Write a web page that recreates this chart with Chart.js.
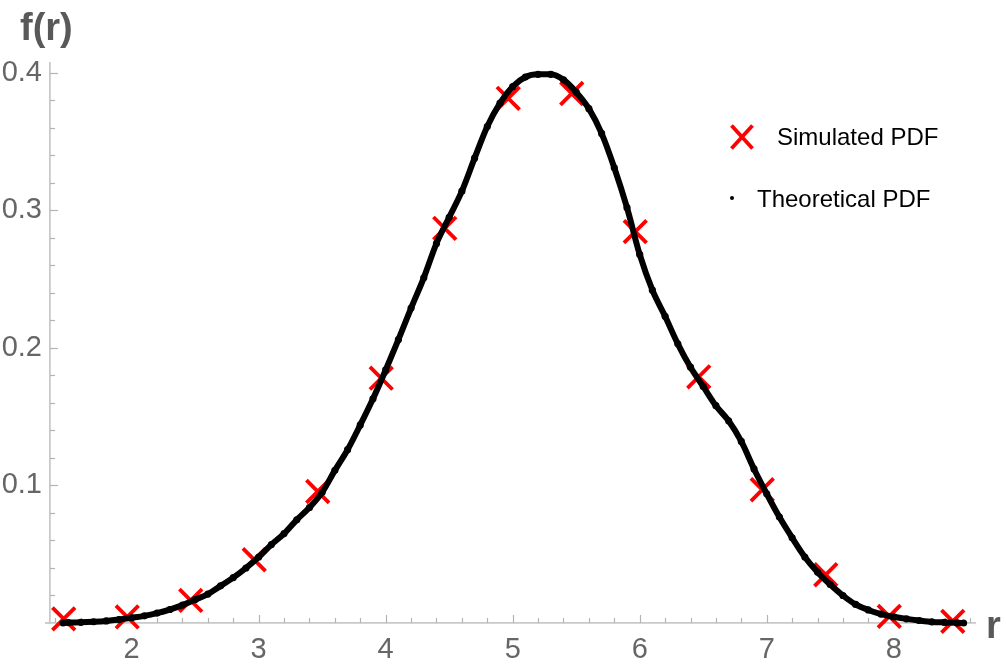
<!DOCTYPE html>
<html>
<head>
<meta charset="utf-8">
<script src="https://cdn.jsdelivr.net/npm/chart.js@4/dist/chart.umd.min.js"></script>
<style>
  html, body { margin: 0; padding: 0; background: #ffffff; }
  #wrap { position: relative; width: 1007px; height: 667px; }
</style>
</head>
<body>
<div id="wrap"><canvas id="c"></canvas></div>
<script>
// ---- data ----
const simX = [1.465, 1.965, 2.465, 2.965, 3.465, 3.965, 4.465, 4.965, 5.465, 5.965, 6.465, 6.965, 7.465, 7.965, 8.465];
const simY = [0.003, 0.0044, 0.0164, 0.046, 0.0956, 0.178, 0.287, 0.3815, 0.385, 0.2846, 0.179, 0.0969, 0.0351, 0.0048, 0.0012];

const theoX = [1.46, 1.5, 1.6, 1.7, 1.8, 1.9, 2.0, 2.1, 2.2, 2.3, 2.4, 2.5, 2.6, 2.7, 2.8, 2.9,
               3.0, 3.1, 3.2, 3.3, 3.4, 3.5, 3.6, 3.7, 3.8, 3.9, 4.0, 4.1, 4.2, 4.3, 4.4, 4.5,
               4.6, 4.7, 4.8, 4.9, 5.0, 5.1, 5.2, 5.3, 5.4, 5.5, 5.6, 5.7, 5.8, 5.9, 6.0, 6.1,
               6.2, 6.3, 6.4, 6.5, 6.6, 6.7, 6.8, 6.9, 7.0, 7.1, 7.2, 7.3, 7.4, 7.5, 7.6, 7.7,
               7.8, 7.9, 8.0, 8.1, 8.2, 8.3, 8.4, 8.5, 8.55];
const theoY = [0.0, 0.0003, 0.0005, 0.0009, 0.0015, 0.0025, 0.0038, 0.0052, 0.0072, 0.0098, 0.013, 0.017, 0.021, 0.027, 0.033, 0.040,
               0.048, 0.057, 0.065, 0.075, 0.084, 0.095, 0.111, 0.126, 0.144, 0.163, 0.184, 0.206, 0.229, 0.251, 0.276, 0.295,
               0.314, 0.338, 0.361, 0.378, 0.390, 0.397, 0.399, 0.399, 0.395, 0.386, 0.374, 0.356, 0.331, 0.302, 0.268, 0.242,
               0.223, 0.203, 0.186, 0.172, 0.158, 0.147, 0.132, 0.112, 0.094, 0.077, 0.062, 0.048, 0.037, 0.028, 0.020, 0.0135,
               0.0095, 0.0065, 0.0045, 0.003, 0.0018, 0.0008, 0.0004, 0.0001, 0.0];

const xMajorTicks = [2, 3, 4, 5, 6, 7, 8];
const xMinorTicks = [1.4, 1.6, 1.8, 2.2, 2.4, 2.6, 2.8, 3.2, 3.4, 3.6, 3.8, 4.2, 4.4, 4.6, 4.8,
                     5.2, 5.4, 5.6, 5.8, 6.2, 6.4, 6.6, 6.8, 7.2, 7.4, 7.6, 7.8, 8.2, 8.4, 8.6];
const yMajorTicks = [0.1, 0.2, 0.3, 0.4];
const yMinorTicks = [0.02, 0.04, 0.06, 0.08, 0.12, 0.14, 0.16, 0.18, 0.22, 0.24, 0.26, 0.28, 0.32, 0.34, 0.36, 0.38];

const seriesNames = ['Simulated PDF', 'Theoretical PDF'];
const xAxisTitle = 'r';
const yAxisTitle = 'f(r)';

const FONT = "'Liberation Sans', Arial, Helvetica, sans-serif";
const AXIS_GRAY = '#c9c9c9';
const TICK_GRAY = '#b3b3b3';
const LABEL_GRAY = '#666666';

const tickMarks = {
  id: 'tickMarks',
  beforeDatasetsDraw(chart) {
    const { ctx, chartArea, scales } = chart;
    const x = scales.x, y = scales.y;
    ctx.save();
    ctx.strokeStyle = TICK_GRAY;
    ctx.lineWidth = 1.2;
    const xt = (arr, len) => arr.forEach(v => {
      const px = Math.round(x.getPixelForValue(v)) + 0.5;
      ctx.beginPath(); ctx.moveTo(px, chartArea.bottom); ctx.lineTo(px, chartArea.bottom - len); ctx.stroke();
    });
    const yt = (arr, len) => arr.forEach(v => {
      const py = Math.round(y.getPixelForValue(v)) + 0.5;
      ctx.beginPath(); ctx.moveTo(chartArea.left, py); ctx.lineTo(chartArea.left + len, py); ctx.stroke();
    });
    xt(xMinorTicks, 5); xt(xMajorTicks, 8);
    yt(yMinorTicks, 5); yt(yMajorTicks, 8);
    // x axis line slightly extending left of the y axis
    ctx.strokeStyle = AXIS_GRAY; ctx.lineWidth = 1.8;
    ctx.beginPath(); ctx.moveTo(chartArea.left - 5, chartArea.bottom); ctx.lineTo(chartArea.left, chartArea.bottom); ctx.stroke();
    ctx.restore();
  }
};

const decorations = {
  id: 'decorations',
  afterDraw(chart) {
    const { ctx, chartArea } = chart;
    ctx.save();
    // axis titles
    ctx.fillStyle = '#595959';
    ctx.font = 'bold 38px ' + FONT;
    ctx.textAlign = 'left';
    ctx.textBaseline = 'alphabetic';
    ctx.fillText(yAxisTitle, 20, 40);
    ctx.fillText(xAxisTitle, chartArea.right + 11, chartArea.bottom + 15);

    // legend
    const lx = 742, ly1 = 137, ly2 = 198;
    ctx.strokeStyle = '#ff0000';
    ctx.lineWidth = 3.8;
    ctx.beginPath();
    ctx.moveTo(lx - 10.5, ly1 - 11.5); ctx.lineTo(lx + 10.5, ly1 + 11.5);
    ctx.moveTo(lx + 10.5, ly1 - 11.5); ctx.lineTo(lx - 10.5, ly1 + 11.5);
    ctx.stroke();
    ctx.fillStyle = '#000000';
    ctx.beginPath(); ctx.arc(732, ly2, 2, 0, Math.PI * 2); ctx.fill();
    ctx.font = '24px ' + FONT;
    ctx.fillText(seriesNames[0], 777, 145);
    ctx.fillText(seriesNames[1], 757, 206.5);
    ctx.restore();
  }
};

new Chart(document.getElementById('c'), {
  type: 'scatter',
  data: {
    datasets: [
      {
        label: seriesNames[1],
        data: theoX.map((v, i) => ({ x: v, y: theoY[i] })),
        showLine: true,
        cubicInterpolationMode: 'monotone',
        borderColor: '#000000',
        borderWidth: 6,
        pointRadius: 3.6,
        pointBackgroundColor: '#000000',
        pointBorderWidth: 0,
        clip: false,
        order: 0
      },
      {
        label: seriesNames[0],
        data: simX.map((v, i) => ({ x: v, y: simY[i] })),
        pointStyle: 'crossRot',
        pointRadius: 16,
        borderColor: '#ff0000',
        backgroundColor: '#ff0000',
        pointBorderWidth: 3.8,
        clip: false,
        order: 1
      }
    ]
  },
  options: {
    responsive: true,
    maintainAspectRatio: false,
    animation: false,
    events: [],
    layout: { padding: { top: 63, right: 32, left: 0, bottom: 0 } },
    plugins: { legend: { display: false }, tooltip: { enabled: false }, title: { display: false } },
    scales: {
      x: {
        type: 'linear',
        min: 1.357,
        max: 8.64,
        grid: { display: false, drawTicks: false },
        border: { display: true, color: AXIS_GRAY, width: 1.8 },
        afterBuildTicks(scale) { scale.ticks = xMajorTicks.map(v => ({ value: v })); },
        afterFit(scale) { scale.height = 44; },
        ticks: {
          color: LABEL_GRAY,
          font: { family: FONT, size: 29 },
          padding: 10,
          maxRotation: 0,
          autoSkip: false,
          callback: v => String(v)
        }
      },
      y: {
        type: 'linear',
        min: 0,
        max: 0.4072,
        grid: { display: false, drawTicks: false },
        border: { display: true, color: AXIS_GRAY, width: 1.8 },
        afterBuildTicks(scale) { scale.ticks = yMajorTicks.map(v => ({ value: v })); },
        afterFit(scale) { scale.width = 50; },
        ticks: {
          color: LABEL_GRAY,
          font: { family: FONT, size: 29 },
          padding: 8,
          autoSkip: false,
          callback: v => Number(v).toFixed(1)
        }
      }
    }
  },
  plugins: [tickMarks, decorations]
});
</script>
</body>
</html>
